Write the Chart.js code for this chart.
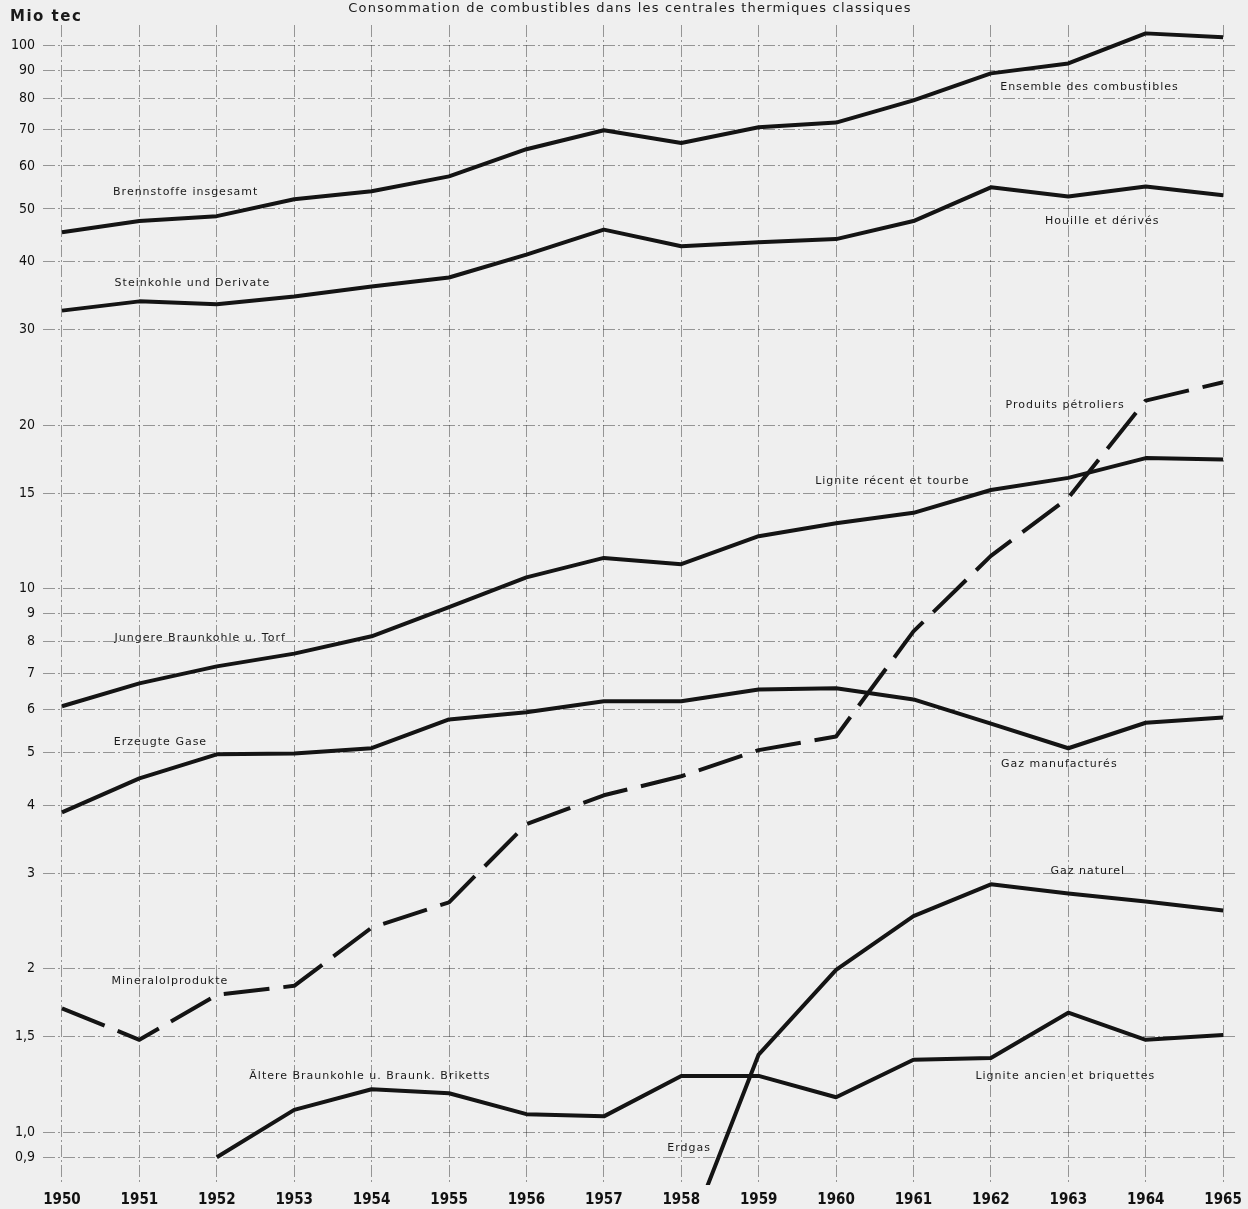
<!DOCTYPE html>
<html>
<head>
<meta charset="utf-8">
<script src="https://cdn.jsdelivr.net/npm/chart.js@4.4.1/dist/chart.umd.min.js"></script>
<style>
  html, body { margin: 0; padding: 0; background: #efefef; }
  #wrap { width: 1248px; height: 1209px; position: relative; }
</style>
</head>
<body>
<div id="wrap"><canvas id="chart" width="1248" height="1209"></canvas></div>
<script>
// Mio tec
const years = [1950, 1951, 1952, 1953, 1954, 1955, 1956, 1957, 1958, 1959, 1960, 1961, 1962, 1963, 1964, 1965];
const ensemble  = [45.3, 47.5, 48.5, 52.1, 53.9, 57.4, 64.4, 69.8, 66.1, 70.7, 72.1, 79.2, 88.8, 92.6, 105.2, 103.5];
const houille   = [32.5, 33.8, 33.4, 34.5, 36.0, 37.4, 41.2, 45.8, 42.7, 43.4, 44.0, 47.5, 54.8, 52.7, 55.0, 53.0];
const petrole   = [1.69, 1.48, 1.79, 1.86, 2.38, 2.65, 3.69, 4.17, 4.52, 5.05, 5.35, 8.35, 11.5, 14.7, 22.2, 24.0];
const ligniteRecent = [6.08, 6.70, 7.20, 7.60, 8.18, 9.25, 10.5, 11.4, 11.1, 12.5, 13.2, 13.8, 15.2, 16.0, 17.4, 17.3];
const gazManuf  = [3.88, 4.48, 4.96, 4.98, 5.09, 5.75, 5.93, 6.21, 6.21, 6.53, 6.56, 6.26, 5.65, 5.09, 5.67, 5.80];
const gazNaturel = [null, null, null, null, null, null, null, null, 0.60, 1.39, 1.99, 2.50, 2.86, 2.75, 2.66, 2.56];
const ligniteAncien = [null, null, 0.90, 1.10, 1.20, 1.18, 1.08, 1.07, 1.27, 1.27, 1.16, 1.36, 1.37, 1.66, 1.48, 1.51];

const yTicks = [0.9, 1, 1.5, 2, 3, 4, 5, 6, 7, 8, 9, 10, 15, 20, 30, 40, 50, 60, 70, 80, 90, 100];

const title = "Consommation de combustibles dans les centrales thermiques classiques";
const unitLabel = "Mio tec";

// series captions: text, anchor year, anchor value
const captionTexts = [
  "Brennstoffe insgesamt", "Steinkohle und Derivate", "Ensemble des combustibles", "Houille et dérivés",
  "Produits pétroliers", "Lignite récent et tourbe", "Jungere Braunkohle u. Torf", "Erzeugte Gase",
  "Gaz manufacturés", "Gaz naturel", "Mineralolprodukte", "Ältere Braunkohle u. Braunk. Briketts",
  "Lignite ancien et briquettes", "Erdgas"
];
const captionYears  = [1950.66, 1950.68, 1962.12, 1962.70, 1962.19, 1959.73, 1950.68, 1950.67, 1962.13, 1962.77, 1950.64, 1952.42, 1961.80, 1957.82];
const captionValues = [53.7, 36.5, 83.7, 47.5, 21.8, 15.8, 8.11, 5.22, 4.75, 3.02, 1.90, 1.27, 1.27, 0.934];

function toPoints(values) {
  return years.map((yr, i) => ({ x: yr, y: values[i] }));
}

function lineSet(label, values, dashed) {
  return {
    label: label,
    data: toPoints(values),
    borderColor: '#141414',
    borderWidth: 4,
    borderDash: dashed ? [46, 14] : [],
    pointRadius: 0,
    tension: 0,
    spanGaps: false,
    borderJoinStyle: 'round',
    borderCapStyle: 'butt'
  };
}

const textPlugin = {
  id: 'texts',
  afterDatasetsDraw(chart) {
    const ctx = chart.ctx;
    const xs = chart.scales.x;
    const ys = chart.scales.y;
    ctx.save();
    ctx.fillStyle = '#1a1a1a';
    ctx.textBaseline = 'middle';
    ctx.font = '11px "DejaVu Sans"';
    ctx.letterSpacing = '1px';
    ctx.textAlign = 'left';
    captionTexts.forEach((txt, i) => {
      ctx.fillText(txt, xs.getPixelForValue(captionYears[i]), ys.getPixelForValue(captionValues[i]));
    });
    ctx.font = '13px "DejaVu Sans"';
    ctx.letterSpacing = '1.2px';
    ctx.textAlign = 'center';
    ctx.fillText(title, 630, 9);
    ctx.font = 'bold 15px "DejaVu Sans"';
    ctx.letterSpacing = '1.5px';
    ctx.textAlign = 'left';
    ctx.fillText(unitLabel, 10, 17);
    ctx.restore();
  }
};

const gridLook = {
  color: 'rgba(40,40,40,0.45)',
  lineWidth: 1,
  drawTicks: false
};

new Chart(document.getElementById('chart'), {
  type: 'line',
  data: {
    datasets: [
      lineSet('Ensemble des combustibles', ensemble, false),
      lineSet('Houille et dérivés', houille, false),
      lineSet('Produits pétroliers', petrole, true),
      lineSet('Lignite récent et tourbe', ligniteRecent, false),
      lineSet('Gaz manufacturés', gazManuf, false),
      lineSet('Gaz naturel', gazNaturel, false),
      lineSet('Lignite ancien et briquettes', ligniteAncien, false)
    ]
  },
  options: {
    responsive: false,
    animation: false,
    layout: { padding: { top: 25, right: 8, left: 0, bottom: 0 } },
    plugins: {
      legend: { display: false },
      tooltip: { enabled: false }
    },
    scales: {
      x: {
        type: 'linear',
        min: 1949.755,
        max: 1965.19,
        afterBuildTicks: (scale) => { scale.ticks = years.map(v => ({ value: v })); },
        afterFit: (scale) => { scale.height = 24; },
        grid: gridLook,
        border: { display: false, dash: [12, 3, 2, 3] },
        ticks: {
          padding: 6,
          maxRotation: 0,
          autoSkip: false,
          color: '#111',
          font: { family: '"Liberation Sans Narrow", "DejaVu Sans Condensed", sans-serif', size: 15, weight: 'bold' },
          callback: (v) => String(v)
        }
      },
      y: {
        type: 'logarithmic',
        min: 0.8,
        max: 109,
        afterBuildTicks: (scale) => { scale.ticks = yTicks.map(v => ({ value: v })); },
        afterFit: (scale) => { scale.width = 43; },
        grid: gridLook,
        border: { display: false, dash: [12, 3, 2, 3] },
        ticks: {
          padding: 8,
          autoSkip: false,
          color: '#111',
          font: { family: '"DejaVu Sans Condensed", "DejaVu Sans", sans-serif', size: 14 },
          callback: (v) => String(v).replace('.', ',').replace(/^1$/, '1,0')
        }
      }
    }
  },
  plugins: [textPlugin]
});
</script>
</body>
</html>
